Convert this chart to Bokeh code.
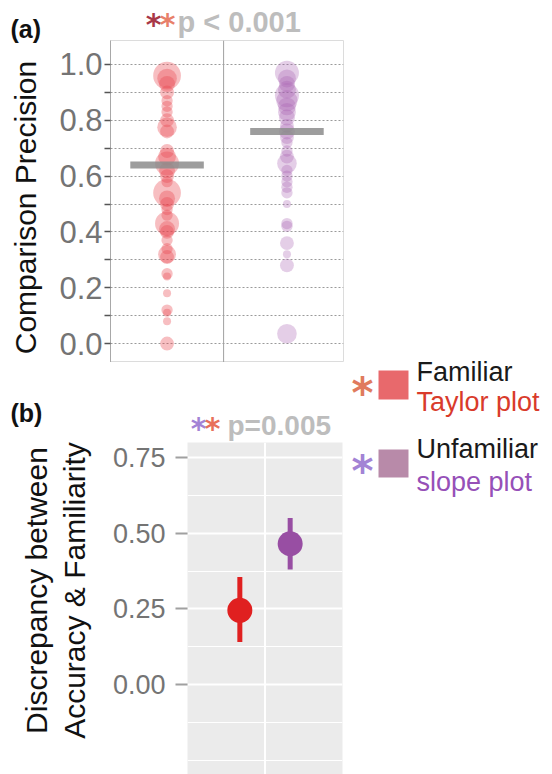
import numpy as np
from bokeh.plotting import figure
from bokeh.models import (FactorRange, Range1d, FixedTicker, Label, Span,
                          BoxAnnotation, ColumnDataSource, GridBox, PrintfTickFormatter)
from bokeh.embed import file_html
from bokeh.resources import INLINE

# ---------------- data ----------------
categories = ["Taylor plot", "slope plot"]
familiarity = ["Familiar", "Unfamiliar"]

# panel (a): comparison precision per participant group (value, count -> bubble size)
taylor_precision = [0.96, 0.95, 0.93, 0.90, 0.87, 0.85, 0.83, 0.80, 0.775, 0.76,
                    0.69, 0.67, 0.645, 0.62, 0.60, 0.58, 0.54, 0.52, 0.50, 0.48,
                    0.46, 0.43, 0.41, 0.40, 0.37, 0.34, 0.32, 0.31, 0.25, 0.24,
                    0.18, 0.12, 0.11, 0.08, 0.0]
taylor_count = [12, 6, 4, 3, 2, 2, 2, 3, 6, 3,
                3, 5, 9, 4, 3, 2, 12, 4, 3, 2,
                2, 9, 4, 3, 2, 2, 5, 3, 2, 1,
                1, 2, 1, 1, 3]
slope_precision = [0.97, 0.95, 0.93, 0.91, 0.89, 0.87, 0.85, 0.83, 0.81, 0.78,
                   0.76, 0.74, 0.72, 0.69, 0.67, 0.645, 0.62, 0.60, 0.58, 0.56,
                   0.54, 0.50, 0.43, 0.42, 0.36, 0.32, 0.28, 0.035]
slope_count = [9, 5, 4, 5, 9, 7, 5, 5, 4, 3,
               4, 3, 2, 2, 3, 6, 2, 2, 2, 2,
               2, 1, 2, 2, 3, 1, 3, 6]
mean_precision = [0.64, 0.76]
ticks_a = [0.0, 0.2, 0.4, 0.6, 0.8, 1.0]
minor_ticks_a = [0.1, 0.3, 0.5, 0.7, 0.9]
title_a = "p < 0.001"
ylabel_a = "Comparison Precision"

# panel (b): discrepancy between accuracy & familiarity
discrepancy_mean = [0.245, 0.465]
discrepancy_low = [0.14, 0.38]
discrepancy_high = [0.355, 0.55]
ticks_b = [0.0, 0.25, 0.50, 0.75]
minor_ticks_b = [-0.25, -0.125, 0.125, 0.375, 0.625]
title_b = "p=0.005"
ylabel_b = ["Discrepancy between", "Accuracy & Familiarity"]

# ---------------- styles ----------------
FONT = "Liberation Sans"
STAR_FONT = "DejaVu Sans"
W, H = 552, 774
bubble_colors = ["#e8464e", "#a45eae"]
point_colors = ["#e02020", "#984ea3"]

# ---------------- panel (a) ----------------
HA = 362
pa = figure(width=W, height=HA, output_backend="svg", toolbar_location=None,
            x_range=FactorRange(factors=categories, factor_padding=0.06),
            y_range=Range1d(-0.068, 1.086),
            min_border_left=110, min_border_right=W - 343,
            min_border_top=40, min_border_bottom=0, frame_align=False,
            background_fill_color="white", border_fill_color="white")
pa.outline_line_color = "#dcdcdc"
pa.xaxis.visible = False
pa.xgrid.visible = False
ya_ax = pa.yaxis[0]
ya_ax.ticker = FixedTicker(ticks=ticks_a, minor_ticks=minor_ticks_a)
ya_ax.formatter = PrintfTickFormatter(format="%.1f")
ya_ax.axis_line_color = "#a8a8a8"
ya_ax.major_tick_line_color = "#555555"
ya_ax.minor_tick_line_color = "#555555"
ya_ax.major_tick_line_width = 1.5
ya_ax.minor_tick_line_width = 1.5
ya_ax.major_tick_out = 6
ya_ax.major_tick_in = 0
ya_ax.minor_tick_out = 6
ya_ax.minor_tick_in = 0
ya_ax.major_label_text_font = FONT
ya_ax.major_label_text_font_size = "31px"
ya_ax.major_label_text_color = "#747474"
ya_ax.major_label_standoff = 2
pa.ygrid.grid_line_color = "#9a9a9a"
pa.ygrid.grid_line_dash = "2 2"
pa.ygrid.minor_grid_line_color = "#9a9a9a"
pa.ygrid.minor_grid_line_dash = "2 2"

pa.add_layout(Span(location=1.0, dimension="height", line_color="#a0a0a0", line_width=1))

for cat, vals, counts, col, alpha in [
        (categories[0], taylor_precision, taylor_count, bubble_colors[0], 0.35),
        (categories[1], slope_precision, slope_count, bubble_colors[1], 0.3)]:
    src = ColumnDataSource(dict(x=[cat] * len(vals), y=vals,
                                size=[8 * np.sqrt(c) for c in counts]))
    pa.scatter(x="x", y="y", size="size", source=src, fill_color=col,
               fill_alpha=alpha, line_color=None)

pa.rect(x=categories, y=mean_precision, width=0.65, height=7, height_units="screen",
        fill_color="#8c8c8c", fill_alpha=0.85, line_color=None)

# ---------------- panel (b) ----------------
HB = H - HA
pb = figure(width=W, height=HB, output_backend="svg", toolbar_location=None,
            x_range=FactorRange(factors=categories, range_padding=0.54,
                                range_padding_units="absolute"),
            y_range=Range1d(-0.2974, 0.7996),
            min_border_left=187, min_border_right=W - 342,
            min_border_top=442 - HA, min_border_bottom=0, frame_align=False,
            background_fill_color="#ebebeb", border_fill_color="white")
pb.outline_line_color = None
pb.xaxis.visible = False
pb.xgrid.visible = False
yb_ax = pb.yaxis[0]
yb_ax.ticker = FixedTicker(ticks=ticks_b, minor_ticks=minor_ticks_b)
yb_ax.formatter = PrintfTickFormatter(format="%.2f")
yb_ax.axis_line_color = None
yb_ax.major_tick_line_color = "#a0a0a0"
yb_ax.major_tick_line_width = 2
yb_ax.major_tick_out = 12
yb_ax.major_tick_in = 0
yb_ax.minor_tick_line_color = None
yb_ax.major_label_text_font = FONT
yb_ax.major_label_text_font_size = "27px"
yb_ax.major_label_text_color = "#747474"
yb_ax.major_label_standoff = 10
pb.ygrid.grid_line_color = "white"
pb.ygrid.grid_line_width = 2
pb.ygrid.minor_grid_line_color = "white"
pb.ygrid.minor_grid_line_width = 1
pb.add_layout(Span(location=1.0, dimension="height", line_color="white", line_width=2))

pb.segment(x0=categories, y0=discrepancy_low, x1=categories, y1=discrepancy_high,
           line_color=point_colors, line_width=5)
pb.scatter(x=categories, y=discrepancy_mean, size=25, fill_color=point_colors, line_color=None)

# ---------------- text overlay (page pixel coordinates) ----------------
ov = figure(width=W, height=H, output_backend="svg", toolbar_location=None,
            x_range=Range1d(0, W), y_range=Range1d(H, 0),
            x_axis_type=None, y_axis_type=None, min_border=0, frame_align=False,
            background_fill_color=None, border_fill_color=None, outline_line_color=None)
ov.grid.visible = False


def lab(x, y, text, size, color, style="normal", font=FONT, align="left", angle=0.0):
    # (x, y) is the wanted baseline position; compensate the renderer's baseline offset
    shift = 0.4 * size
    if angle == 0.0:
        y = y - shift
    else:
        x = x - shift
    ov.add_layout(Label(x=x, y=y, text=text, text_font=font, text_font_size=f"{size}px",
                        text_font_style=style, text_color=color, angle=angle,
                        text_align=align, text_baseline="alphabetic"))


# panel (a) texts
lab(10, 38, "(a)", 25, "#111111", style="bold")
lab(153, 36, "*", 30, "#a83848", style="bold", font=STAR_FONT, align="center")
lab(167, 36, "*", 30, "#e8806a", style="bold", font=STAR_FONT, align="center")
lab(177, 33, title_a, 29, "#bdbdbd", style="bold")
lab(37, 207, ylabel_a, 30, "#111111", align="center", angle=np.pi / 2)

# panel (b) texts
lab(10, 422, "(b)", 25, "#111111", style="bold")
lab(198, 440, "*", 30, "#a383d5", style="bold", font=STAR_FONT, align="center")
lab(212, 440, "*", 30, "#e8705a", style="bold", font=STAR_FONT, align="center")
lab(227, 436, title_b, 28, "#bdbdbd", style="bold")
lab(48, 590, ylabel_b[0], 30, "#111111", align="center", angle=np.pi / 2)
lab(86, 590, ylabel_b[1], 30, "#111111", align="center", angle=np.pi / 2)

# legend
legend_squares = [("#e8696c", 370, 399), ("#b88aa9", 449, 477)]
legend_stars = [("#e07b5e", 388), ("#a383d5", 466)]
for col, top, bot in legend_squares:
    ov.add_layout(BoxAnnotation(left=378, right=408, top=top, bottom=bot,
                                fill_color=col, fill_alpha=1.0, line_color=None))
for col, cy in legend_stars:
    lab(362, cy + 22, "*", 42, col, style="bold", font=STAR_FONT, align="center")
lab(416, 382, familiarity[0], 27, "#1a1a1a")
lab(416, 412, categories[0], 27, "#d93b2b")
lab(416, 459, familiarity[1], 27, "#1a1a1a")
lab(416, 492, categories[1], 27, "#9650b8")

layout = GridBox(children=[(pa, 0, 0), (pb, 1, 0), (ov, 0, 0, 2, 1)])
open("out.html", "w").write(file_html(layout, INLINE))
